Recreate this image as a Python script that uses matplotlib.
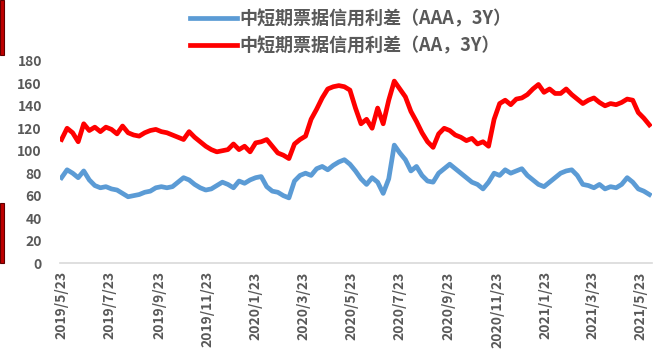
import matplotlib
matplotlib.use("Agg")
import matplotlib.pyplot as plt
from matplotlib.patches import Rectangle
import numpy as np

plt.rcParams['font.family'] = ['Noto Sans CJK SC', 'DejaVu Sans']

# 周度数据，起始 2019/5/23
start = np.datetime64('2019-05-23')
aaa_3y = [76, 83, 80, 76, 82, 74, 69, 67, 68, 66,
          65, 62, 59, 60, 61, 63, 64, 67, 68, 67,
          68, 72, 76, 74, 70, 67, 65, 66, 69, 72,
          70, 67, 73, 71, 74, 76, 77, 68, 64, 63,
          60, 58, 73, 78, 80, 78, 84, 86, 83, 87,
          90, 92, 88, 82, 75, 70, 76, 72, 62, 75,
          105, 98, 92, 82, 86, 78, 73, 72, 80, 84,
          88, 84, 80, 76, 72, 70, 66, 72, 80, 78,
          83, 80, 82, 84, 78, 74, 70, 68, 72, 76,
          80, 82, 83, 78, 70, 69, 67, 70, 66, 68,
          67, 70, 76, 72, 66, 64, 61]
aa_3y = [110, 120, 116, 108, 124, 118, 121, 117, 121, 119,
         115, 122, 116, 114, 113, 116, 118, 119, 117, 116,
         114, 112, 110, 117, 112, 108, 104, 101, 99, 100,
         101, 106, 101, 104, 99, 107, 108, 110, 104, 98,
         96, 93, 106, 110, 113, 128, 137, 147, 155, 157,
         158, 157, 154, 138, 124, 128, 120, 138, 124, 145,
         162, 155, 148, 135, 126, 116, 108, 103, 115, 120,
         118, 114, 112, 109, 111, 106, 108, 104, 128, 142,
         145, 141, 146, 147, 150, 155, 159, 152, 155, 151,
         151, 155, 150, 146, 142, 145, 147, 143, 140, 142,
         141, 143, 146, 145, 134, 129, 123]
dates = start + np.arange(len(aa_3y)) * np.timedelta64(7, 'D')

tick_dates = ['2019-05-23', '2019-07-23', '2019-09-23', '2019-11-23',
              '2020-01-23', '2020-03-23', '2020-05-23', '2020-07-23',
              '2020-09-23', '2020-11-23', '2021-01-23', '2021-03-23',
              '2021-05-23']
y_ticks = [0, 20, 40, 60, 80, 100, 120, 140, 160, 180]

label_aaa = '中短期票据信用利差（AAA，3Y）'
label_aa = '中短期票据信用利差（AA，3Y）'

fig = plt.figure(figsize=(6.59, 3.54), dpi=100)
ax = fig.add_axes([0.091, 0.257, 0.898, 0.571])

ax.plot(dates, aaa_3y, color='#5B9BD5', lw=3.4, label=label_aaa, solid_joinstyle='round')
ax.plot(dates, aa_3y, color='#FF0000', lw=3.4, label=label_aa, solid_joinstyle='round')

ax.set_ylim(0, 180)
ax.set_yticks(y_ticks)
ax.set_xlim(np.datetime64('2019-05-21'), np.datetime64('2021-06-06'))
tick_pos = [np.datetime64(d) for d in tick_dates]
ax.set_xticks(tick_pos)
ax.set_xticklabels([f"{d[:4]}/{int(d[5:7])}/{int(d[8:])}" for d in tick_dates],
                   rotation=90)

for s in ['top', 'right', 'left']:
    ax.spines[s].set_visible(False)
ax.spines['bottom'].set_color('#D9D9D9')
ax.spines['bottom'].set_linewidth(1.2)

ax.tick_params(axis='y', length=0, pad=13, labelsize=10, labelcolor='#595959')
ax.tick_params(axis='x', length=0, pad=6, labelsize=10, labelcolor='#595959')
for lbl in ax.get_xticklabels() + ax.get_yticklabels():
    lbl.set_fontweight('bold')

fig.legend(loc='upper center', bbox_to_anchor=(0.532, 1.0), ncol=1,
           frameon=False, handlelength=2.6, handletextpad=0.1,
           labelspacing=0.45, borderaxespad=0.1,
           prop={'size': 13, 'weight': 'bold'}, labelcolor='#595959')

# 左侧红色边框装饰
fig.patches.append(Rectangle((0, 1 - 55 / 354), 4 / 659, 55 / 354,
                             transform=fig.transFigure, facecolor='#C00000',
                             edgecolor='#600000', lw=0.8))
fig.patches.append(Rectangle((0, 1 - 263 / 354), 4 / 659, 60 / 354,
                             transform=fig.transFigure, facecolor='#C00000',
                             edgecolor='#600000', lw=0.8))

fig.savefig('out.png', dpi=100)
